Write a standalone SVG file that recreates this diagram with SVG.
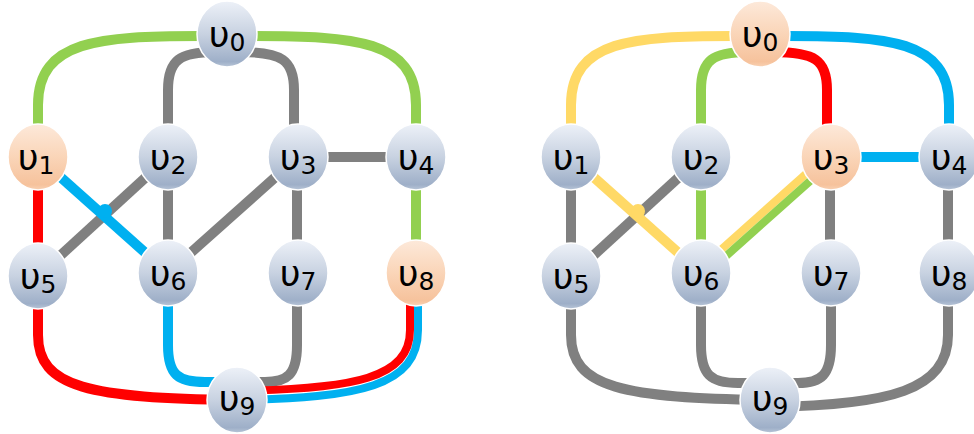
<svg xmlns="http://www.w3.org/2000/svg" width="974" height="434" viewBox="0 0 974 434">
  <defs>
    <linearGradient id="gBlue" x1="0" y1="0" x2="0" y2="1">
      <stop offset="0" stop-color="#edf1f8"/>
      <stop offset="0.5" stop-color="#c8d2e1"/>
      <stop offset="0.92" stop-color="#9eafc8"/>
      <stop offset="1" stop-color="#b9c6d8"/>
    </linearGradient>
    <linearGradient id="gOrange" x1="0" y1="0" x2="0" y2="1">
      <stop offset="0" stop-color="#fde9da"/>
      <stop offset="0.5" stop-color="#fad5b8"/>
      <stop offset="0.92" stop-color="#f6c29c"/>
      <stop offset="1" stop-color="#f9d2b4"/>
    </linearGradient>
  </defs>
  <style>
    .e { fill: none; stroke-width: 10; stroke-linecap: butt; }
    .thin { stroke-width: 8; }
    .gray { stroke: #808080; }
    .green { stroke: #92d050; }
    .red { stroke: #ff0000; }
    .blue { stroke: #00b0f0; }
    .yellow { stroke: #ffd966; }
    .node ellipse { stroke: #ffffff; stroke-width: 1.5; }
    .plain ellipse { fill: url(#gBlue); }
    .hot ellipse { fill: url(#gOrange); }
    .lbl { font-family: "DejaVu Sans", "Noto Sans", sans-serif; font-size: 36px; fill: #000000; text-anchor: middle; }
    .sub { font-size: 25px; }
  </style>

  <!-- connectors: left graph -->
  <g id="connectors-left">
    <path class="e green" d="M200,36 C100,36 38,40 38,105 L38,157"/>
    <path class="e green" d="M254,36 C354,36 416,40 416,105 L416,157"/>
    <path class="e gray" d="M215,52 C180,52 168,60 168,90 L168,157"/>
    <path class="e gray" d="M240,52 C282,52 294,60 294,90 L294,157"/>
    <path class="e gray" d="M298,157 L416,157"/>
    <path class="e red" d="M38,157 L38,276"/>
    <path class="e gray" d="M168,157 L38,276"/>
    <path class="e blue" d="M38,157 L168,273"/>
    <circle cx="105" cy="211" r="7" fill="#00b0f0"/>
    <path class="e gray" d="M168,157 L168,273"/>
    <path class="e gray" d="M298,157 L168,273"/>
    <path class="e gray" d="M297,157 L297,273"/>
    <path class="e green" d="M416,157 L416,273"/>
    <path class="e red" d="M38,276 L38,335 C38,388 90,398 237,400"/>
    <path class="e blue" d="M168,273 L168,345 C168,375 178,382 205,382 L237,382"/>
    <path class="e gray" d="M297,273 L297,345 C297,375 287,382 265,382 L237,382"/>
    <path class="e thin blue" d="M418,273 L418,330 C418,386 360,398 237,400"/>
    <path class="e thin red" d="M410,273 L410,330 C410,378 355,389 237,391"/>
  </g>

  <!-- connectors: right graph -->
  <g id="connectors-right">
    <path class="e yellow" d="M733,36 C633,36 571,40 571,105 L571,157"/>
    <path class="e blue" d="M787,36 C887,36 949,40 949,105 L949,157"/>
    <path class="e green" d="M748,52 C713,52 701,60 701,90 L701,157"/>
    <path class="e red" d="M773,52 C815,52 827,60 827,90 L827,157"/>
    <path class="e blue" d="M831,157 L949,157"/>
    <path class="e gray" d="M571,157 L571,276"/>
    <path class="e gray" d="M701,157 L571,276"/>
    <path class="e yellow" d="M571,157 L701,273"/>
    <circle cx="638" cy="211" r="7" fill="#ffd966"/>
    <path class="e green" d="M701,157 L701,273"/>
    <path class="e thin yellow" d="M828.3,154 L698.3,270"/>
    <path class="e thin green" d="M833.7,160 L703.7,276"/>
    <path class="e gray" d="M830,157 L830,273"/>
    <path class="e gray" d="M948,157 L948,273"/>
    <path class="e gray" d="M571,276 L571,335 C571,388 623,398 770,400"/>
    <path class="e gray" d="M701,273 L701,345 C701,375 711,383 738,383 L770,383"/>
    <path class="e gray" d="M831,273 L831,345 C831,375 821,383 798,383 L770,383"/>
    <path class="e gray" d="M948,273 L948,335 C948,390 890,405 770,407"/>
  </g>

  <!-- nodes: left graph -->
  <g id="L-v0" class="node plain"><ellipse cx="227" cy="34" rx="30" ry="33"/><text class="lbl" x="227" y="47">υ<tspan class="sub" dy="4">0</tspan></text></g>
  <g id="L-v1" class="node hot"><ellipse cx="38" cy="157" rx="30" ry="33"/><text class="lbl" x="36" y="170">υ<tspan class="sub" dy="4">1</tspan></text></g>
  <g id="L-v2" class="node plain"><ellipse cx="168" cy="157" rx="30" ry="33"/><text class="lbl" x="168" y="170">υ<tspan class="sub" dy="4">2</tspan></text></g>
  <g id="L-v3" class="node plain"><ellipse cx="298" cy="157" rx="30" ry="33"/><text class="lbl" x="298" y="170">υ<tspan class="sub" dy="4">3</tspan></text></g>
  <g id="L-v4" class="node plain"><ellipse cx="416" cy="157" rx="30" ry="33"/><text class="lbl" x="416" y="170">υ<tspan class="sub" dy="4">4</tspan></text></g>
  <g id="L-v5" class="node plain"><ellipse cx="38" cy="276" rx="30" ry="33"/><text class="lbl" x="38" y="289">υ<tspan class="sub" dy="4">5</tspan></text></g>
  <g id="L-v6" class="node plain"><ellipse cx="168" cy="273" rx="30" ry="33"/><text class="lbl" x="168" y="286">υ<tspan class="sub" dy="4">6</tspan></text></g>
  <g id="L-v7" class="node plain"><ellipse cx="298" cy="273" rx="30" ry="33"/><text class="lbl" x="298" y="286">υ<tspan class="sub" dy="4">7</tspan></text></g>
  <g id="L-v8" class="node hot"><ellipse cx="416" cy="273" rx="30" ry="33"/><text class="lbl" x="416" y="286">υ<tspan class="sub" dy="4">8</tspan></text></g>
  <g id="L-v9" class="node plain"><ellipse cx="237" cy="400" rx="30" ry="33"/><text class="lbl" x="237" y="411">υ<tspan class="sub" dy="4">9</tspan></text></g>

  <!-- nodes: right graph -->
  <g id="R-v0" class="node hot"><ellipse cx="760" cy="34" rx="30" ry="33"/><text class="lbl" x="760" y="47">υ<tspan class="sub" dy="4">0</tspan></text></g>
  <g id="R-v1" class="node plain"><ellipse cx="571" cy="157" rx="30" ry="33"/><text class="lbl" x="571" y="170">υ<tspan class="sub" dy="4">1</tspan></text></g>
  <g id="R-v2" class="node plain"><ellipse cx="701" cy="157" rx="30" ry="33"/><text class="lbl" x="701" y="170">υ<tspan class="sub" dy="4">2</tspan></text></g>
  <g id="R-v3" class="node hot"><ellipse cx="831" cy="157" rx="30" ry="33"/><text class="lbl" x="831" y="170">υ<tspan class="sub" dy="4">3</tspan></text></g>
  <g id="R-v4" class="node plain"><ellipse cx="949" cy="157" rx="30" ry="33"/><text class="lbl" x="949" y="170">υ<tspan class="sub" dy="4">4</tspan></text></g>
  <g id="R-v5" class="node plain"><ellipse cx="571" cy="276" rx="30" ry="33"/><text class="lbl" x="571" y="289">υ<tspan class="sub" dy="4">5</tspan></text></g>
  <g id="R-v6" class="node plain"><ellipse cx="701" cy="273" rx="30" ry="33"/><text class="lbl" x="701" y="286">υ<tspan class="sub" dy="4">6</tspan></text></g>
  <g id="R-v7" class="node plain"><ellipse cx="831" cy="273" rx="30" ry="33"/><text class="lbl" x="831" y="286">υ<tspan class="sub" dy="4">7</tspan></text></g>
  <g id="R-v8" class="node plain"><ellipse cx="949" cy="273" rx="30" ry="33"/><text class="lbl" x="949" y="286">υ<tspan class="sub" dy="4">8</tspan></text></g>
  <g id="R-v9" class="node plain"><ellipse cx="770" cy="400" rx="30" ry="33"/><text class="lbl" x="770" y="411">υ<tspan class="sub" dy="4">9</tspan></text></g>
</svg>
